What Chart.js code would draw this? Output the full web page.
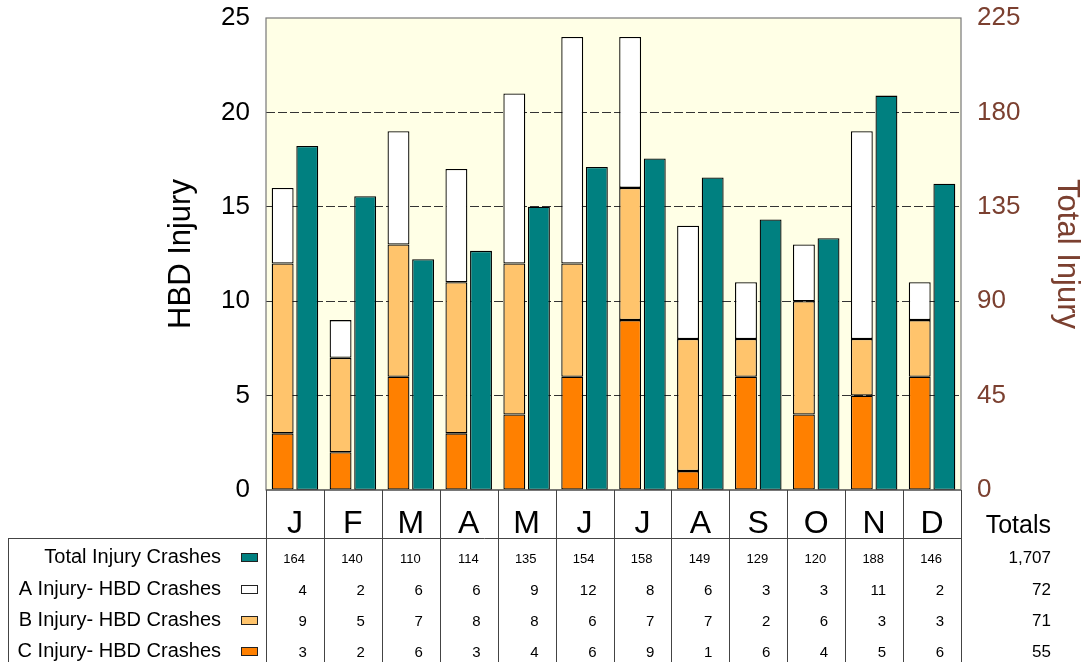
<!DOCTYPE html>
<html lang="en">
<head>
    <meta charset="UTF-8">
    <title>HBD Injury Crashes by Month</title>
    <script src="https://cdn.jsdelivr.net/npm/chart.js"></script>
    <style>
        html, body {
            margin: 0;
            padding: 0;
            background: #fff;
        }
        .chart-box {
            position: relative;
            width: 1086px;
            height: 662px;
        }
    </style>
</head>
<body>

    <div class="chart-box">
        <canvas id="injuryChart"></canvas>
    </div>

    <script>
        // Values
        const months = ['J', 'F', 'M', 'A', 'M', 'J', 'J', 'A', 'S', 'O', 'N', 'D'];
        const totalInjury = [164, 140, 110, 114, 135, 154, 158, 149, 129, 120, 188, 146];
        const aInjury = [4, 2, 6, 6, 9, 12, 8, 6, 3, 3, 11, 2];
        const bInjury = [9, 5, 7, 8, 8, 6, 7, 7, 2, 6, 3, 3];
        const cInjury = [3, 2, 6, 3, 4, 6, 9, 1, 6, 4, 5, 6];
        const rowLabels = ['Total Injury Crashes', 'A Injury- HBD Crashes', 'B Injury- HBD Crashes', 'C Injury- HBD Crashes'];
        const rowTotals = ['1,707', '72', '71', '55'];

        const TEAL = '#008080';
        const ORANGE = '#FF8000';
        const LIGHT_ORANGE = '#FFC46C';
        const BROWN = '#7B4030';
        const FONT = '"Liberation Sans", Arial, sans-serif';

        // fixed axis widths, no extra padding for the tick labels
        function fitAxis(width) {
            return (s) => {
                s.width = width;
                s.paddingTop = 0;
                s.paddingBottom = 0;
            };
        }

        // background of plot + data table under the bars
        const tablePlugin = {
            id: 'monthTable',
            beforeDraw(chart) {
                const { ctx, chartArea: a } = chart;
                ctx.save();
                ctx.fillStyle = '#FFFFE6';
                ctx.fillRect(a.left, a.top, a.right - a.left, a.bottom - a.top);
                ctx.restore();
            },
            afterDraw(chart) {
                const { ctx, chartArea: a, scales } = chart;
                const x = scales.x;
                const w = (a.right - a.left) / months.length;
                const bottom = chart.height;
                ctx.save();

                // plot frame
                ctx.strokeStyle = '#777';
                ctx.lineWidth = 1.2;
                ctx.strokeRect(a.left, a.top, a.right - a.left, a.bottom - a.top);

                // table grid
                ctx.strokeStyle = '#444';
                ctx.lineWidth = 1;
                ctx.beginPath();
                for (let i = 0; i <= months.length; i++) {
                    const x0 = Math.round(a.left + i * w) + 0.5;
                    ctx.moveTo(x0, a.bottom);
                    ctx.lineTo(x0, bottom);
                }
                ctx.moveTo(8, 538.5);
                ctx.lineTo(a.right, 538.5);
                ctx.moveTo(8.5, 538);
                ctx.lineTo(8.5, bottom);
                ctx.moveTo(a.left, a.bottom);
                ctx.lineTo(a.right, a.bottom);
                ctx.stroke();

                // month letters
                ctx.fillStyle = '#000';
                ctx.textAlign = 'center';
                ctx.textBaseline = 'alphabetic';
                ctx.font = '32px ' + FONT;
                months.forEach((m, i) => {
                    ctx.fillText(m, x.getPixelForValue(i), 533);
                });

                ctx.textAlign = 'right';
                ctx.font = '25px ' + FONT;
                ctx.fillText('Totals', 1051, 533);

                // rows
                const rowY = [557, 589, 620, 651];
                const rowColors = [TEAL, '#FFFFFF', LIGHT_ORANGE, ORANGE];
                const rowData = [totalInjury, aInjury, bInjury, cInjury];
                rowLabels.forEach((label, r) => {
                    const y = rowY[r];
                    ctx.fillStyle = '#000';
                    ctx.textAlign = 'right';
                    ctx.textBaseline = 'middle';
                    ctx.font = '20px ' + FONT;
                    ctx.fillText(label, 221, y);

                    ctx.fillStyle = rowColors[r];
                    ctx.fillRect(241, y - 4, 16, 9);
                    ctx.strokeStyle = '#222';
                    ctx.strokeRect(241.5, y - 3.5, 16, 8);

                    ctx.fillStyle = '#000';
                    ctx.font = (r === 0 ? '13px ' : '15px ') + FONT;
                    rowData[r].forEach((v, i) => {
                        const right = a.left + (i + 1) * w - (r === 0 ? 19 : 17);
                        ctx.fillText(String(v), right, y + 2);
                    });

                    ctx.font = '17px ' + FONT;
                    ctx.fillText(rowTotals[r], 1051, y + 1);
                });
                ctx.restore();
            }
        };

        new Chart(document.getElementById('injuryChart'), {
            type: 'bar',
            data: {
                labels: months,
                datasets: [
                    { label: 'C Injury- HBD Crashes', data: cInjury, backgroundColor: ORANGE, stack: 'hbd', yAxisID: 'y' },
                    { label: 'B Injury- HBD Crashes', data: bInjury, backgroundColor: LIGHT_ORANGE, stack: 'hbd', yAxisID: 'y' },
                    { label: 'A Injury- HBD Crashes', data: aInjury, backgroundColor: '#FFFFFF', stack: 'hbd', yAxisID: 'y' },
                    { label: 'Total Injury Crashes', data: totalInjury, backgroundColor: TEAL, stack: 'total', yAxisID: 'y1' }
                ]
            },
            options: {
                responsive: true,
                maintainAspectRatio: false,
                animation: false,
                layout: {
                    padding: { left: 150, right: 0, top: 18, bottom: 172 }
                },
                datasets: {
                    bar: {
                        borderColor: '#000',
                        borderWidth: 1.3,
                        borderSkipped: false,
                        categoryPercentage: 0.85,
                        barPercentage: 0.89
                    }
                },
                scales: {
                    x: {
                        display: false,
                        stacked: true
                    },
                    y: {
                        position: 'left',
                        stacked: true,
                        min: 0,
                        max: 25,
                        afterFit: fitAxis(116),
                        ticks: {
                            stepSize: 5,
                            padding: 16,
                            color: '#000',
                            font: { family: FONT, size: 26 }
                        },
                        grid: {
                            drawTicks: false,
                            color: (c) => (c.tick.value === 0 || c.tick.value === 25) ? 'rgba(0,0,0,0)' : '#333'
                        },
                        border: { display: false, dash: [9, 3] },
                        title: {
                            display: true,
                            text: 'HBD Injury',
                            color: '#000',
                            font: { family: FONT, size: 31 },
                            padding: { top: 13, bottom: 0 }
                        }
                    },
                    y1: {
                        position: 'right',
                        min: 0,
                        max: 225,
                        afterFit: fitAxis(125),
                        ticks: {
                            stepSize: 45,
                            padding: 16,
                            color: BROWN,
                            font: { family: FONT, size: 26 }
                        },
                        grid: { display: false, drawTicks: false },
                        border: { display: false },
                        title: {
                            display: true,
                            text: 'Total Injury',
                            color: BROWN,
                            font: { family: FONT, size: 31 },
                            padding: { top: 1, bottom: 0 }
                        }
                    }
                },
                plugins: {
                    legend: { display: false },
                    tooltip: { enabled: false }
                }
            },
            plugins: [tablePlugin]
        });
    </script>

</body>
</html>
